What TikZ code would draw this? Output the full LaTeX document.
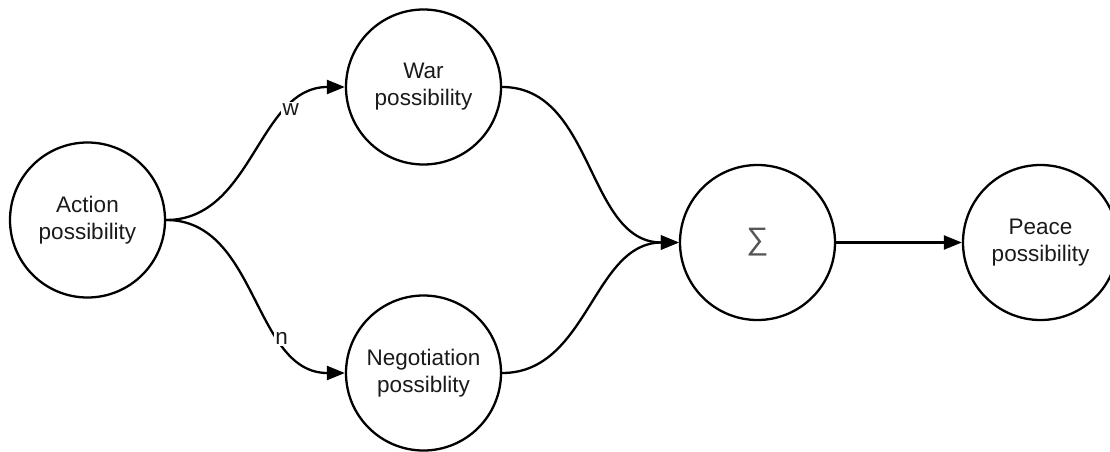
\documentclass[tikz,border=0pt]{standalone}
\usepackage{fontspec}
\setmainfont{Liberation Sans}
\usetikzlibrary{arrows.meta}
\definecolor{ink}{HTML}{1A1A1A}
\definecolor{sigmagray}{HTML}{555555}
\begin{document}
\begin{tikzpicture}[x=1pt,y=-1pt,
  state/.style={draw=black,line width=2.3pt,circle,minimum size=155pt,inner sep=0pt,
    align=center,text=ink,font=\fontsize{22.5}{27}\selectfont},
  flow/.style={line width=2.3pt,-{Triangle[length=18pt,width=14pt]}},
  weight/.style={fill=white,inner sep=1.5pt,text=ink,font=\fontsize{22.5}{24}\selectfont}]
\useasboundingbox (0,0) rectangle (1110,452);
\node[state] (act) at (87.5,220) {Action\\possibility};
\node[state] (war) at (423.5,87) {War\\possibility};
\node[state] (neg) at (423.5,373) {Negotiation\\possiblity};
\node[state] (sum) at (757.5,242.5) {\textcolor{sigmagray}{\fontsize{31}{31}\selectfont ∑}};
\node[state] (peace) at (1040.5,242.5) {Peace\\possibility};
\draw[flow] (act.east) to[out=0,in=180] node[weight,pos=0.74] {w} (war.west);
\draw[flow] (act.east) to[out=0,in=180] node[weight,pos=0.69] {n} (neg.west);
\draw[flow] (war.east) to[out=0,in=180] (sum.west);
\draw[flow] (neg.east) to[out=0,in=180] (sum.west);
\draw[flow] (sum.east) -- (peace.west);
\end{tikzpicture}
\end{document}
